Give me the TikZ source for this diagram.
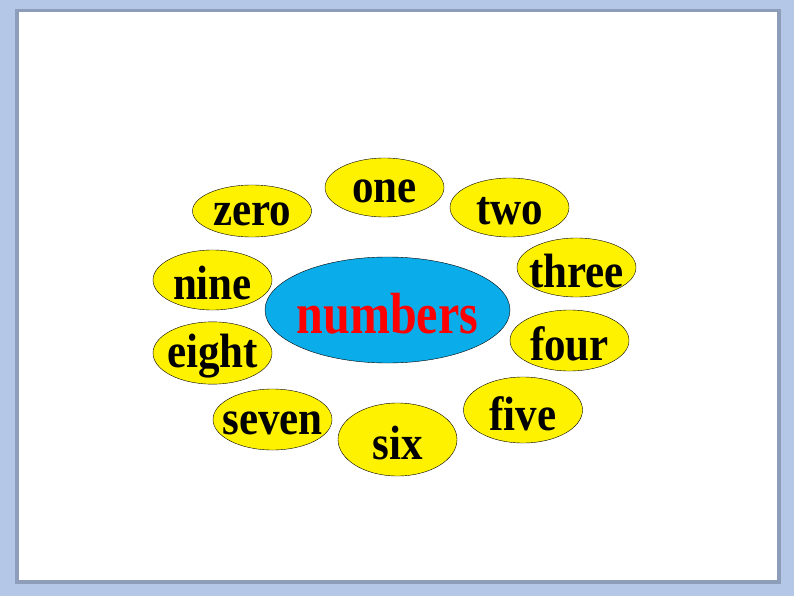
\documentclass[tikz,border=0pt]{standalone}
\usepackage{fontspec}
\setmainfont{Liberation Serif}
\usepackage{tikz}
\usetikzlibrary{shapes.geometric}
\definecolor{framebg}{HTML}{B4C7E7}
\definecolor{frameedge}{HTML}{8D9DBA}
\definecolor{hubblue}{HTML}{0AADEA}
\newcommand{\wordbox}[1]{\makebox[0pt]{\raisebox{-3.5pt}[\height][\depth]{\scalebox{1}[1.12]{#1}}}}

\begin{document}
\begin{tikzpicture}[x=1pt,y=-1pt,
    word/.style={ellipse,draw=black,fill=yellow,inner sep=0pt,minimum width=119pt,minimum height=#1,font=\fontsize{43}{43}\selectfont\bfseries},
    word/.default=59pt,
    hub/.style={ellipse,draw=black,fill=hubblue,inner sep=0pt,minimum width=245pt,minimum height=106pt,text=red,font=\fontsize{48}{48}\selectfont\bfseries}]
      \fill[framebg] (0,0) rectangle (794,596);
      \fill[frameedge] (15,9) rectangle (781,584);
      \fill[white] (19,12) rectangle (777,580);
      \node[hub](numbers) at (387.5,310){\wordbox{\scalebox{1}[1.08]{numbers}}};
      \node[word=52pt](zero) at (252,211){\wordbox{zero}};
      \node[word](one) at (384.5,187.5){\wordbox{one}};
      \node[word](two) at (509.5,207.5){\wordbox{two}};
      \node[word](three) at (576.5,267.5){\wordbox{three}};
      \node[word=61pt](four) at (569.5,340.5){\wordbox{four}};
      \node[word=66pt](five) at (523,410){\wordbox{five}};
      \node[word=73pt](six) at (397.5,439.5){\wordbox{six}};
      \node[word=61pt](seven) at (272.5,419.5){\wordbox{seven}};
      \node[word=60pt](eight) at (212.5,353){\wordbox{eight}};
      \node[word=60pt](nine) at (212.5,280){\wordbox{nine}};
    \end{tikzpicture}
\end{document}
